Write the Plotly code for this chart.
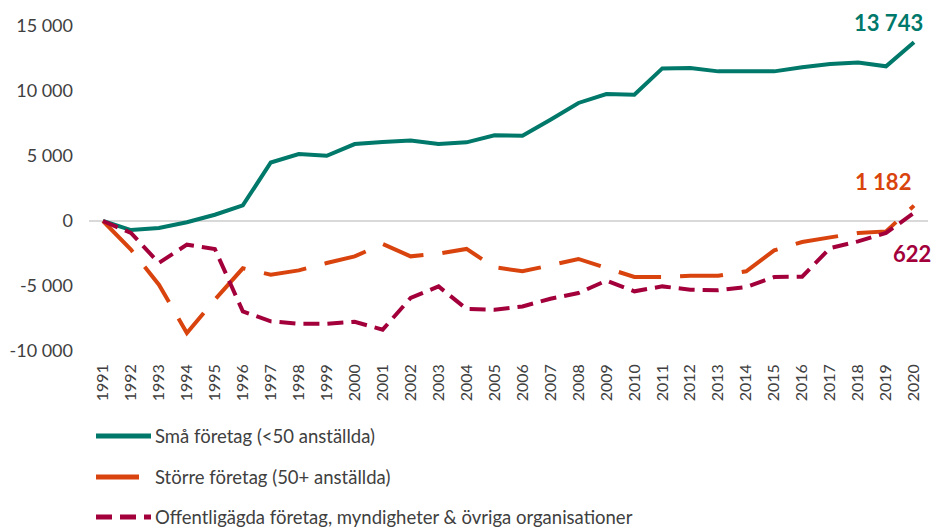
import plotly.graph_objects as go

years = list(range(1991, 2021))

sma = [0, -700, -540, -100, 480, 1200, 4500, 5150, 5020, 5920, 6080, 6200, 5920, 6050,
       6590, 6560, 7790, 9080, 9770, 9720, 11740, 11770, 11510, 11510, 11510, 11820,
       12070, 12200, 11900, 13743]

storre = [0, -2200, -4900, -8620, -6050, -3640, -4130, -3800, -3230, -2720, -1770, -2720,
          -2510, -2150, -3560, -3870, -3410, -2920, -3620, -4300, -4310, -4210, -4210,
          -3870, -2260, -1620, -1260, -920, -800, 1182]

offentliga = [0, -920, -3230, -1820, -2150, -6950, -7720, -7900, -7900, -7750, -8360, -5920,
              -5030, -6770, -6820, -6570, -5980, -5540, -4590, -5410, -5030, -5280, -5330,
              -5080, -4310, -4280, -2080, -1570, -920, 622]

names = ["Små företag (<50 anställda)",
         "Större företag (50+ anställda)",
         "Offentligägda företag, myndigheter & övriga organisationer"]

ytick_vals = [-10000, -5000, 0, 5000, 10000, 15000]
ytick_text = ["-10 000", "-5 000", "0", "5 000", "10 000", "15 000"]

end_labels = ["13 743", "1 182", "622"]

GREEN = "#00786A"
ORANGE = "#D9440E"
MAROON = "#A3003B"
TXT = "#404040"
FONT = "Lato"

W, H = 936, 527
ML, MR, MT, MB = 89, 8, 26, 176
PW, PH = W - ML - MR, H - MT - MB


def px(xp):
    return (xp - ML) / PW


def py(yp):
    return (H - MB - yp) / PH


dashes = ["solid", "43px,19px", "16px,8px"]
colors = [GREEN, ORANGE, MAROON]
series = [sma, storre, offentliga]

fig = go.Figure()
for s, n, c, d in zip(series, names, colors, dashes):
    fig.add_trace(go.Scatter(x=years, y=s, mode="lines", name=n,
                             line=dict(color=c, width=4, dash=d)))

# end-point data labels
shifts = [(11, 20), (-1, 24), (19, -41)]
for s, lab, c, (dx, dy) in zip(series, end_labels, colors, shifts):
    fig.add_annotation(x=years[-1], y=s[-1], text=f"<b>{lab}</b>", showarrow=False,
                       xanchor="right", yanchor="middle",
                       xshift=dx, yshift=dy, font=dict(family=FONT, size=22, color=c))

# custom legend (vertical, below the chart)
leg_rows = [436, 477, 517]
leg_ends = [151, 139, 151]
for n, c, d, yr, xe in zip(names, colors, dashes, leg_rows, leg_ends):
    fig.add_shape(type="line", xref="paper", yref="paper",
                  x0=px(96), x1=px(xe), y0=py(yr), y1=py(yr),
                  line=dict(color=c, width=5, dash=d))
    fig.add_annotation(xref="paper", yref="paper", x=px(153), y=py(yr), text=n,
                       showarrow=False, xanchor="left", yanchor="middle",
                       font=dict(family=FONT, size=18.5, color=TXT))

fig.update_layout(
    width=W, height=H,
    margin=dict(l=ML, r=MR, t=MT, b=MB, autoexpand=False),
    paper_bgcolor="white", plot_bgcolor="white",
    font=dict(family=FONT, color=TXT),
    showlegend=False,
    hovermode=False,
)
fig.update_xaxes(range=[1990.5, 2020.5], tickmode="array", tickvals=years,
                 ticktext=[str(y) for y in years], tickangle=-90,
                 tickfont=dict(family=FONT, size=16, color=TXT),
                 showgrid=False, zeroline=False, showline=False, ticks="",
                 ticklabelstandoff=9, automargin=False)
fig.update_yaxes(range=[-10000, 15000], tickmode="array", tickvals=ytick_vals,
                 ticktext=ytick_text, tickfont=dict(family=FONT, size=18, color=TXT),
                 showgrid=False, zeroline=True, zerolinecolor="#D9D9D9", zerolinewidth=1.5,
                 showline=False, ticks="", ticklabelstandoff=15, automargin=False)

fig.write_html("out.html", config={"displayModeBar": False, "staticPlot": True},
               post_script="document.body.style.margin='0';document.body.style.overflow='hidden';")
